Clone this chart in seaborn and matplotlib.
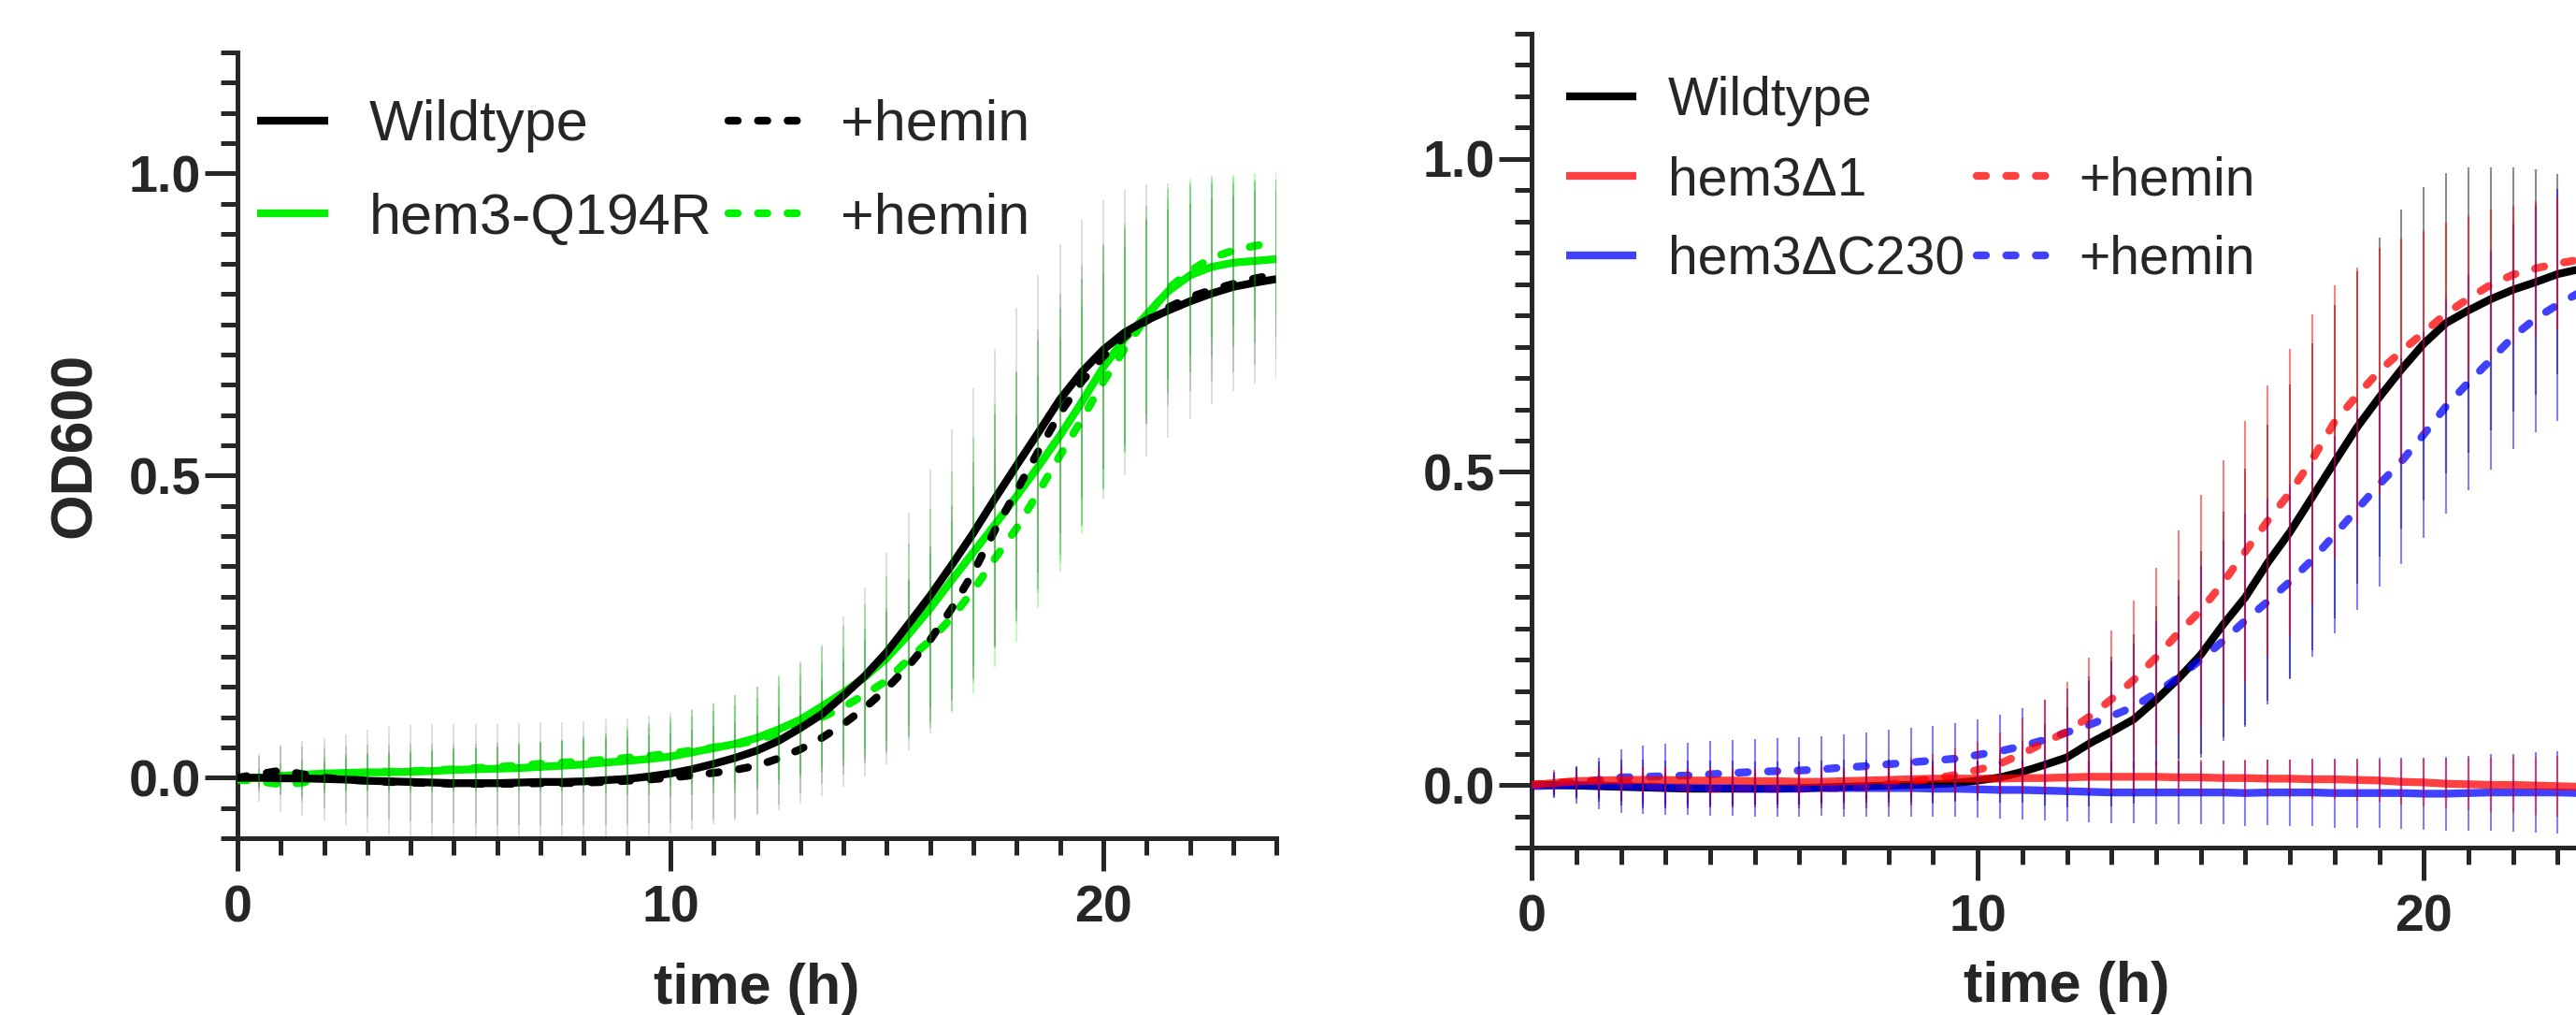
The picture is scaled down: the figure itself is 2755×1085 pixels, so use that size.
import numpy as np
import matplotlib
matplotlib.use("Agg")
import matplotlib.pyplot as plt
from matplotlib.lines import Line2D
from matplotlib.ticker import MultipleLocator
import seaborn as sns

# sampling times (h), one reading every 30 min
time_h = np.arange(0, 24.5, 0.5)

# ---- left panel: wildtype vs hem3-Q194R ----
wt_left = [0.000, 0.000, -0.001, -0.001, -0.002, -0.003, -0.005, -0.006, -0.007, -0.008,
           -0.009, -0.009, -0.009, -0.008, -0.007, -0.007, -0.006, -0.004, -0.002, 0.002,
           0.007, 0.014, 0.023, 0.033, 0.045, 0.061, 0.082, 0.105, 0.136, 0.169,
           0.208, 0.254, 0.301, 0.352, 0.405, 0.462, 0.517, 0.571, 0.626, 0.671,
           0.708, 0.737, 0.757, 0.773, 0.788, 0.801, 0.812, 0.819, 0.825]
wt_left_sd = [0.000, 0.040, 0.055, 0.062, 0.068, 0.075, 0.085, 0.090, 0.095, 0.097,
              0.098, 0.098, 0.098, 0.099, 0.099, 0.099, 0.099, 0.100, 0.100, 0.100,
              0.100, 0.100, 0.100, 0.103, 0.105, 0.106, 0.107, 0.115, 0.130, 0.145,
              0.164, 0.185, 0.208, 0.224, 0.240, 0.248, 0.260, 0.260, 0.257, 0.252,
              0.247, 0.236, 0.225, 0.210, 0.195, 0.183, 0.172, 0.167, 0.165]
wt_hemin_left = [0.000, 0.006, 0.012, 0.006, 0.000, -0.003, -0.005, -0.007, -0.008, -0.009,
                 -0.010, -0.010, -0.010, -0.010, -0.009, -0.009, -0.008, -0.007, -0.005, -0.003,
                 0.000, 0.004, 0.008, 0.013, 0.020, 0.032, 0.047, 0.066, 0.089, 0.116,
                 0.148, 0.185, 0.228, 0.280, 0.340, 0.410, 0.475, 0.540, 0.603, 0.655,
                 0.697, 0.730, 0.756, 0.778, 0.795, 0.807, 0.817, 0.826, 0.833]
wt_hemin_left_sd = [0.000, 0.030, 0.040, 0.045, 0.050, 0.055, 0.060, 0.062, 0.064, 0.065,
                    0.066, 0.067, 0.068, 0.068, 0.069, 0.070, 0.070, 0.071, 0.072, 0.073,
                    0.074, 0.075, 0.077, 0.079, 0.082, 0.086, 0.090, 0.096, 0.104, 0.114,
                    0.126, 0.140, 0.155, 0.170, 0.182, 0.192, 0.198, 0.200, 0.198, 0.193,
                    0.186, 0.178, 0.170, 0.162, 0.155, 0.150, 0.146, 0.143, 0.140]
q194r = [-0.003, 0.000, 0.003, 0.005, 0.007, 0.008, 0.009, 0.009, 0.010, 0.011,
         0.013, 0.014, 0.015, 0.016, 0.018, 0.020, 0.022, 0.025, 0.028, 0.031,
         0.035, 0.042, 0.049, 0.056, 0.066, 0.080, 0.096, 0.118, 0.141, 0.167,
         0.198, 0.237, 0.280, 0.327, 0.373, 0.419, 0.466, 0.515, 0.566, 0.621,
         0.679, 0.727, 0.766, 0.805, 0.831, 0.845, 0.852, 0.855, 0.858]
q194r_sd = [0.000, 0.015, 0.020, 0.025, 0.028, 0.030, 0.032, 0.033, 0.034, 0.035,
            0.035, 0.036, 0.037, 0.038, 0.040, 0.043, 0.046, 0.050, 0.055, 0.060,
            0.065, 0.070, 0.075, 0.080, 0.085, 0.090, 0.095, 0.100, 0.110, 0.120,
            0.135, 0.150, 0.165, 0.180, 0.190, 0.200, 0.205, 0.210, 0.210, 0.205,
            0.200, 0.190, 0.180, 0.170, 0.160, 0.150, 0.140, 0.135, 0.130]
q194r_hemin = [-0.003, -0.006, -0.011, -0.008, 0.000, 0.006, 0.009, 0.010, 0.011, 0.012,
               0.014, 0.016, 0.018, 0.020, 0.023, 0.025, 0.027, 0.030, 0.033, 0.036,
               0.040, 0.045, 0.050, 0.055, 0.062, 0.074, 0.087, 0.100, 0.117, 0.138,
               0.161, 0.196, 0.227, 0.265, 0.310, 0.363, 0.413, 0.472, 0.533, 0.592,
               0.655, 0.710, 0.762, 0.809, 0.838, 0.860, 0.872, 0.880, 0.885]
q194r_hemin_sd = [0.000, 0.012, 0.018, 0.022, 0.025, 0.027, 0.028, 0.029, 0.030, 0.031,
                  0.032, 0.033, 0.034, 0.035, 0.036, 0.038, 0.040, 0.042, 0.045, 0.048,
                  0.052, 0.056, 0.060, 0.065, 0.070, 0.076, 0.082, 0.090, 0.098, 0.108,
                  0.120, 0.132, 0.145, 0.158, 0.170, 0.180, 0.188, 0.192, 0.192, 0.188,
                  0.180, 0.170, 0.160, 0.150, 0.140, 0.132, 0.126, 0.120, 0.118]

# ---- right panel: wildtype vs hem3Δ1 / hem3ΔC230 ----
wt_right = [0.000, 0.000, -0.001, -0.002, -0.003, -0.004, -0.005, -0.006, -0.006, -0.006,
            -0.006, -0.006, -0.005, -0.004, -0.003, -0.002, -0.001, 0.000, 0.001, 0.003,
            0.007, 0.012, 0.021, 0.032, 0.044, 0.066, 0.085, 0.105, 0.136, 0.170,
            0.208, 0.256, 0.300, 0.355, 0.404, 0.460, 0.516, 0.571, 0.619, 0.664,
            0.705, 0.738, 0.758, 0.776, 0.791, 0.803, 0.816, 0.824, 0.830]
wt_right_sd = [0.000, 0.015, 0.018, 0.020, 0.022, 0.024, 0.025, 0.025, 0.026, 0.026,
               0.026, 0.026, 0.026, 0.027, 0.027, 0.027, 0.028, 0.028, 0.029, 0.030,
               0.032, 0.040, 0.050, 0.065, 0.080, 0.100, 0.120, 0.135, 0.150, 0.158,
               0.165, 0.180, 0.205, 0.220, 0.235, 0.245, 0.250, 0.250, 0.255, 0.255,
               0.250, 0.240, 0.228, 0.210, 0.195, 0.180, 0.160, 0.150, 0.145]
d1 = [0.000, 0.003, 0.006, 0.007, 0.008, 0.008, 0.008, 0.007, 0.007, 0.007,
      0.006, 0.006, 0.005, 0.005, 0.006, 0.007, 0.008, 0.009, 0.010, 0.010,
      0.010, 0.010, 0.011, 0.011, 0.012, 0.013, 0.013, 0.013, 0.013, 0.012,
      0.012, 0.011, 0.011, 0.010, 0.010, 0.009, 0.009, 0.008, 0.007, 0.005,
      0.004, 0.002, 0.001, 0.000, 0.000, -0.001, -0.002, -0.003, -0.004]
d1_sd = [0.000, 0.010, 0.012, 0.015, 0.018, 0.020, 0.020, 0.020, 0.020, 0.020,
         0.021, 0.021, 0.021, 0.021, 0.021, 0.022, 0.022, 0.022, 0.022, 0.022,
         0.022, 0.023, 0.024, 0.024, 0.025, 0.025, 0.026, 0.026, 0.027, 0.027,
         0.028, 0.028, 0.030, 0.030, 0.031, 0.031, 0.032, 0.033, 0.034, 0.036,
         0.038, 0.040, 0.042, 0.043, 0.045, 0.046, 0.048, 0.049, 0.050]
d1_hemin = [0.000, 0.004, 0.005, 0.005, 0.003, -0.001, -0.004, -0.005, -0.006, -0.006,
            -0.006, -0.006, -0.006, -0.005, -0.005, -0.003, 0.001, 0.005, 0.010, 0.016,
            0.024, 0.034, 0.050, 0.068, 0.085, 0.109, 0.137, 0.168, 0.204, 0.243,
            0.279, 0.323, 0.373, 0.422, 0.467, 0.520, 0.580, 0.622, 0.661, 0.693,
            0.723, 0.753, 0.777, 0.799, 0.815, 0.825, 0.833, 0.839, 0.845]
d1_hemin_sd = [0.000, 0.020, 0.022, 0.025, 0.028, 0.030, 0.030, 0.030, 0.030, 0.030,
               0.030, 0.031, 0.032, 0.033, 0.034, 0.035, 0.036, 0.038, 0.040, 0.042,
               0.045, 0.050, 0.058, 0.068, 0.080, 0.095, 0.110, 0.126, 0.143, 0.163,
               0.184, 0.196, 0.208, 0.216, 0.230, 0.232, 0.218, 0.205, 0.197, 0.180,
               0.162, 0.145, 0.131, 0.120, 0.110, 0.108, 0.107, 0.105, 0.105]
c230 = [-0.002, -0.001, 0.000, -0.001, -0.002, -0.003, -0.004, -0.004, -0.005, -0.005,
        -0.006, -0.006, -0.006, -0.005, -0.005, -0.005, -0.005, -0.005, -0.006, -0.006,
        -0.007, -0.008, -0.008, -0.009, -0.010, -0.011, -0.012, -0.012, -0.012, -0.012,
        -0.012, -0.012, -0.013, -0.012, -0.012, -0.012, -0.013, -0.013, -0.013, -0.013,
        -0.014, -0.014, -0.013, -0.012, -0.012, -0.012, -0.012, -0.013, -0.013]
c230_sd = [0.000, 0.020, 0.030, 0.038, 0.042, 0.043, 0.043, 0.043, 0.044, 0.044,
           0.044, 0.044, 0.044, 0.044, 0.045, 0.045, 0.045, 0.045, 0.045, 0.045,
           0.045, 0.046, 0.047, 0.047, 0.048, 0.048, 0.049, 0.049, 0.050, 0.050,
           0.050, 0.051, 0.052, 0.052, 0.053, 0.054, 0.055, 0.055, 0.056, 0.057,
           0.058, 0.059, 0.060, 0.061, 0.062, 0.064, 0.066, 0.070, 0.070]
c230_hemin = [0.000, 0.001, 0.003, 0.008, 0.012, 0.013, 0.014, 0.015, 0.017, 0.019,
              0.021, 0.022, 0.023, 0.025, 0.028, 0.030, 0.033, 0.036, 0.039, 0.042,
              0.048, 0.054, 0.062, 0.072, 0.084, 0.096, 0.110, 0.125, 0.147, 0.172,
              0.200, 0.230, 0.263, 0.293, 0.325, 0.360, 0.400, 0.440, 0.480, 0.517,
              0.560, 0.605, 0.643, 0.679, 0.716, 0.745, 0.767, 0.787, 0.800]
c230_hemin_sd = [0.000, 0.020, 0.025, 0.035, 0.045, 0.050, 0.052, 0.053, 0.053, 0.053,
                 0.053, 0.053, 0.053, 0.053, 0.053, 0.054, 0.055, 0.055, 0.055, 0.056,
                 0.056, 0.058, 0.060, 0.064, 0.070, 0.078, 0.088, 0.100, 0.115, 0.130,
                 0.150, 0.160, 0.170, 0.165, 0.155, 0.155, 0.158, 0.160, 0.163, 0.164,
                 0.165, 0.172, 0.172, 0.175, 0.180, 0.182, 0.185, 0.185, 0.185]

BLACK = "#000000"
GREEN = "#00F000"
RED = "#FF0000"
BLUE = "#0000FF"
DASH = (0, (1.2, 2.6))
LW = 3.0

sns.set_style("ticks")
plt.rcParams['font.family'] = ['Liberation Sans', 'DejaVu Sans']


def draw(ax, y, sd, color, dashed, bar_rgba, alpha=1.0):
    # mean curve
    sns.lineplot(x=time_h, y=y, ax=ax, color=color, lw=LW, alpha=alpha,
                 linestyle=DASH if dashed else '-', dash_capstyle='round',
                 solid_capstyle='butt', legend=False, zorder=3)
    # SD bars, thin and see-through like the Prism export
    ax.errorbar(time_h, y, yerr=sd, fmt='none', ecolor=bar_rgba,
                elinewidth=0.75, capsize=0, zorder=4)


def style_axes(ax, xlabelpad):
    ax.set_xlim(0, 24)
    ax.set_ylim(-0.1, 1.2)
    ax.set_xticks([0, 10, 20])
    ax.set_xticklabels(['0', '10', '20'])
    ax.set_yticks([0.0, 0.5, 1.0])
    ax.set_yticklabels(['0.0', '0.5', '1.0'])
    ax.xaxis.set_minor_locator(MultipleLocator(1))
    ax.yaxis.set_minor_locator(MultipleLocator(0.05))
    for s in ['top', 'right']:
        ax.spines[s].set_visible(False)
    for s in ['left', 'bottom']:
        ax.spines[s].set_linewidth(1.8)
    ax.tick_params(which='major', length=12.5, width=1.8, labelsize=20)
    ax.tick_params(which='minor', length=6.5, width=1.8)
    ax.tick_params(axis='x', which='major', pad=5.5)
    ax.tick_params(axis='y', which='major', pad=1.5)
    plt.setp(ax.get_xticklabels() + ax.get_yticklabels(), fontweight='bold')
    ax.set_xlabel('time (h)', fontsize=22, fontweight='bold', labelpad=xlabelpad)


fig = plt.figure(figsize=(13.775, 5.425), dpi=200)
ax1 = fig.add_axes([0.0922, 0.1742, 0.4033, 0.7742])
ax2 = fig.add_axes([0.5946, 0.1650, 0.4156, 0.8018])

# left panel
draw(ax1, q194r, q194r_sd, GREEN, False, (0.0, 0.94, 0.0, 0.25))
draw(ax1, q194r_hemin, q194r_hemin_sd, GREEN, True, (0.0, 0.94, 0.0, 0.25))
draw(ax1, wt_left, wt_left_sd, BLACK, False, (0.0, 0.0, 0.0, 0.13))
draw(ax1, wt_hemin_left, wt_hemin_left_sd, BLACK, True, (0.0, 0.0, 0.0, 0.13))
style_axes(ax1, 11)
ax1.set_ylabel('OD600', fontsize=22.5, fontweight='bold', labelpad=10)

h_left = [Line2D([], [], color=BLACK, lw=LW, solid_capstyle='butt'),
          Line2D([], [], color=GREEN, lw=LW, solid_capstyle='butt'),
          Line2D([], [], color=BLACK, lw=LW, linestyle=DASH, dash_capstyle='round'),
          Line2D([], [], color=GREEN, lw=LW, linestyle=DASH, dash_capstyle='round')]
ax1.legend(h_left, ['Wildtype', 'hem3-Q194R', '+hemin', '+hemin'], ncol=2,
           loc='upper left', bbox_to_anchor=(0.019, 0.9405), frameon=False,
           borderpad=0, borderaxespad=0, handlelength=1.24, handletextpad=0.72,
           columnspacing=0.28, labelspacing=0.70, fontsize=22)

# right panel
draw(ax2, wt_right, wt_right_sd, BLACK, False, (0.0, 0.0, 0.0, 0.45))
draw(ax2, c230_hemin, c230_hemin_sd, BLUE, True, (0.0, 0.0, 1.0, 0.5), alpha=0.75)
draw(ax2, d1_hemin, d1_hemin_sd, RED, True, (1.0, 0.0, 0.0, 0.5), alpha=0.75)
draw(ax2, c230, c230_sd, BLUE, False, (0.0, 0.0, 1.0, 0.5), alpha=0.75)
draw(ax2, d1, d1_sd, RED, False, (1.0, 0.0, 0.0, 0.5), alpha=0.75)
style_axes(ax2, 7)
ax2.set_ylabel('')

h_right = [Line2D([], [], color=BLACK, lw=LW, solid_capstyle='butt'),
           Line2D([], [], color=RED, lw=LW, alpha=0.75, solid_capstyle='butt'),
           Line2D([], [], color=BLUE, lw=LW, alpha=0.75, solid_capstyle='butt'),
           Line2D([], [], linestyle='none'),
           Line2D([], [], color=RED, lw=LW, alpha=0.75, linestyle=DASH, dash_capstyle='round'),
           Line2D([], [], color=BLUE, lw=LW, alpha=0.75, linestyle=DASH, dash_capstyle='round')]
ax2.legend(h_right, ['Wildtype', 'hem3Δ1', 'hem3ΔC230', '', '+hemin', '+hemin'], ncol=2,
           loc='upper left', bbox_to_anchor=(0.032, 0.948), frameon=False,
           borderpad=0, borderaxespad=0, handlelength=1.33, handletextpad=0.59,
           columnspacing=0.23, labelspacing=0.54, fontsize=20.5)

fig.savefig('out.png', dpi=200)
